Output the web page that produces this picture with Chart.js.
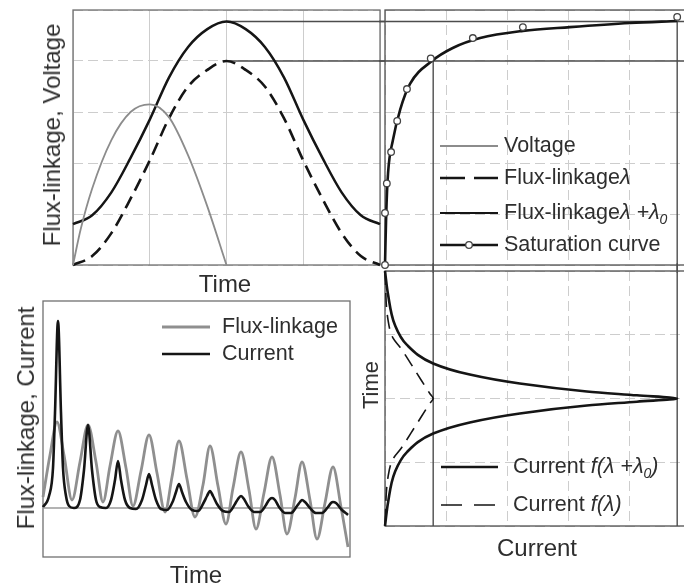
<!DOCTYPE html>
<html>
<head>
<meta charset="utf-8">
<script src="https://cdn.jsdelivr.net/npm/chart.js@4.4.1/dist/chart.umd.min.js"></script>
<style>
  html, body { margin:0; padding:0; background:#fff; width:684px; height:586px; overflow:hidden; position:relative; }
  canvas { position:absolute; }
  .lbl { position:absolute; font-family:"Liberation Sans", Arial, sans-serif; color:#2e2e2e; white-space:nowrap; line-height:1; transform:translate(-50%,-50%); }
  .rot { transform:translate(-50%,-50%) rotate(-90deg); }
</style>
</head>
<body>
<canvas id="tl"></canvas>
<canvas id="tr"></canvas>
<canvas id="lr"></canvas>
<canvas id="ll"></canvas>
<div class="lbl rot" style="left:52px;top:135px;font-size:24px">Flux-linkage, Voltage</div>
<div class="lbl" style="left:225px;top:284px;font-size:24px">Time</div>
<div class="lbl rot" style="left:26px;top:418px;font-size:24px">Flux-linkage, Current</div>
<div class="lbl" style="left:196px;top:575px;font-size:24px">Time</div>
<div class="lbl rot" style="left:371px;top:385px;font-size:22px">Time</div>
<div class="lbl" style="left:537px;top:548px;font-size:24px">Current</div>
<script>
// top left: one period, time in quarter periods, flux / voltage normalised
const voltageTime = [0, 0.1, 0.25, 0.5, 0.75, 1, 1.25, 1.5, 1.75, 2];
const voltage     = [0, 0.14, 0.30, 0.49, 0.60, 0.63, 0.58, 0.43, 0.23, 0];
const fluxTime    = [0, 0.25, 0.5, 0.75, 1, 1.25, 1.5, 1.75, 2, 2.25, 2.5, 2.75, 3, 3.25, 3.5, 3.75, 4];
const flux        = [0, 0.035, 0.125, 0.26, 0.41, 0.575, 0.70, 0.765, 0.80, 0.765, 0.70, 0.575, 0.41, 0.26, 0.125, 0.035, 0];
const fluxOffset  = [0.16, 0.195, 0.285, 0.42, 0.57, 0.735, 0.855, 0.925, 0.955, 0.925, 0.855, 0.735, 0.57, 0.42, 0.285, 0.195, 0.16];

// top right: saturation curve (line + measured points)
const satCurrent     = [0, 0.02, 0.05, 0.13, 0.25, 0.41, 0.77, 1.11, 1.56, 2.26, 3.03, 4.02, 4.79];
const satFlux        = [0, 0.2, 0.36, 0.49, 0.61, 0.71, 0.8, 0.851, 0.89, 0.918, 0.933, 0.949, 0.957];
const satMarkCurrent = [0, 0, 0.03, 0.1, 0.2, 0.36, 0.75, 1.44, 2.26, 4.79];
const satMarkFlux    = [0, 0.204, 0.32, 0.443, 0.565, 0.69, 0.81, 0.89, 0.933, 0.973];

// projection of the two flux peaks through the saturation curve
const projFlux    = [0.8, 0.955];
const projCurrent = [0.79, 4.79];

// lower right: current vs time (time runs downwards)
const timeSolid    = [0, 0.37, 0.84, 1.16, 1.45, 1.625, 1.766, 1.89, 1.95, 2.0, 2.05, 2.11, 2.234, 2.375, 2.55, 2.84, 3.16, 3.63, 4];
const currentSolid = [0, 0.05, 0.16, 0.36, 0.79, 1.39, 2.21, 3.31, 4.13, 4.79, 4.13, 3.31, 2.21, 1.39, 0.79, 0.36, 0.16, 0.05, 0];
const timeDash     = [0, 0.77, 1.05, 1.2, 1.57, 1.93, 2.0, 2.07, 2.43, 2.8, 2.95, 3.23, 4];
const currentDash  = [0, 0.05, 0.13, 0.25, 0.5, 0.74, 0.79, 0.74, 0.5, 0.25, 0.13, 0.05, 0];

// lower left: transient (arbitrary units)
const flTime  = [0, 7, 14, 21, 29, 37, 45, 53, 60, 67, 75, 83, 90, 98, 106, 114, 122, 129, 136, 144, 152, 160, 167, 175, 183, 190, 198, 206, 213, 221, 229, 237, 244, 252, 259, 267, 274, 282, 290, 298, 305];
const flValue = [11, 53, 86, 53, 8, 46, 83, 46, 6, 42, 77, 40, 2, 37, 73, 35, -4, 31, 67, 29, -9, 23, 62, 22, -16, 20, 56, 18, -21, 15, 51, 13, -26, 10, 46, 8, -31, 5, 41, 1, -39];
const curTime  = [0, 6, 10, 12, 15, 18, 20, 23, 26, 31, 37, 41, 45, 49, 53, 57, 63, 68, 72, 75, 78, 82, 87, 93, 99, 103, 106, 109, 113, 118, 124, 130, 133, 136, 139, 143, 149, 155, 161, 164, 167, 170, 174, 180, 186, 192, 195, 198, 201, 205, 211, 217, 223, 226, 229, 232, 236, 242, 248, 254, 257, 259, 262, 267, 273, 279, 285, 288, 290, 293, 298, 305];
const curValue = [1, 12, 40, 95, 187, 95, 40, 12, 2, 0, 8, 38, 83, 38, 8, 1, 0, 8, 28, 47, 28, 8, 0, -1, 8, 23, 34, 23, 8, -1, -2, 7, 16, 24, 16, 6, -2, -3, 6, 12, 17, 12, 4, -3, -4, 4, 9, 12, 9, 2, -4, -4, 3, 8, 10, 8, 1, -5, -5, 2, 6, 8, 6, 0, -5, -5, 1, 5, 6, 5, -1, -7];

const PAD = 10;
const FONT = '"Liberation Sans", Arial, sans-serif';
const BLACK = '#151515', GRAY = '#8c8c8c', GRID = '#cdcdcd', PROJ = '#4d4d4d';

const pts = (xs, ys) => xs.map((x, i) => ({x, y: ys[i]}));

const framePlugin = {
  id: 'frame',
  beforeDatasetsDraw(chart, args, opts) {
    const {ctx, chartArea: a} = chart;
    ctx.save();
    ctx.strokeStyle = opts.color; ctx.lineWidth = opts.width;
    ctx.strokeRect(a.left, a.top, a.right - a.left, a.bottom - a.top);
    ctx.restore();
  }
};

const legendPlugin = {
  id: 'inlineLegend',
  afterDatasetsDraw(chart, args, opts) {
    const ctx = chart.ctx;
    (opts.items || []).forEach(it => {
      const ds = it.src;
      const x = it.x - opts.ox, y = it.y - opts.oy;
      ctx.save();
      ctx.strokeStyle = ds.borderColor;
      ctx.lineWidth = it.width || ds.borderWidth;
      ctx.setLineDash(it.dash || []);
      ctx.beginPath(); ctx.moveTo(x, y); ctx.lineTo(x + it.len, y); ctx.stroke();
      if (it.marker) {
        const m = it.marker;
        ctx.setLineDash([]);
        ctx.beginPath(); ctx.arc(x + it.len / 2, y, m.pointRadius, 0, Math.PI * 2);
        ctx.fillStyle = m.pointBackgroundColor; ctx.fill();
        ctx.lineWidth = m.pointBorderWidth; ctx.strokeStyle = m.pointBorderColor; ctx.stroke();
      }
      let tx = x + it.len + it.gap;
      ctx.fillStyle = '#2e2e2e'; ctx.textBaseline = 'middle';
      it.parts.forEach(p => {
        ctx.font = (p.i ? 'italic ' : '') + (p.sub ? 14 : opts.size) + 'px ' + FONT;
        ctx.fillText(p.t, tx, y + (p.sub ? 7 : 0));
        tx += ctx.measureText(p.t).width;
      });
      ctx.restore();
    });
  }
};

function axis(min, max, step, gridColor, dash, extra) {
  return Object.assign({
    type: 'linear', min, max,
    ticks: {display: false, stepSize: step},
    grid: {display: !!gridColor, color: gridColor || GRID, lineWidth: 1, drawTicks: false},
    border: {display: false, dash: dash || []}
  }, extra || {});
}

function makeChart(id, rect, cfg) {
  const cv = document.getElementById(id);
  cv.width = rect.w + 2 * PAD; cv.height = rect.h + 2 * PAD;
  cv.style.left = (rect.l - PAD) + 'px'; cv.style.top = (rect.t - PAD) + 'px';
  return new Chart(cv, {
    type: 'line',
    data: {datasets: cfg.datasets},
    options: {
      responsive: false, animation: false, events: [],
      indexAxis: cfg.indexAxis || 'x',
      layout: {padding: PAD},
      elements: {point: {radius: 0}, line: {fill: false}},
      scales: {x: cfg.x, y: cfg.y},
      plugins: {
        legend: {display: false}, tooltip: {enabled: false},
        frame: cfg.frame,
        inlineLegend: {items: cfg.legend || [], ox: rect.l - PAD, oy: rect.t - PAD, size: cfg.legendSize || 21.5}
      }
    },
    plugins: [framePlugin, legendPlugin]
  });
}

const line = (data, color, width, extra) => Object.assign({
  data, borderColor: color, borderWidth: width, pointRadius: 0,
  cubicInterpolationMode: 'monotone', clip: 4
}, extra || {});

// datasets
const dsVoltage = line(pts(voltageTime, voltage), GRAY, 1.8, {label: 'Voltage'});
const dsFlux    = line(pts(fluxTime, flux), BLACK, 2.6, {label: 'Flux-linkage λ', borderDash: [13, 7]});
const dsFluxOff = line(pts(fluxTime, fluxOffset), BLACK, 2.5, {label: 'Flux-linkage λ + λ0'});
const dsSat     = line(pts(satCurrent, satFlux), BLACK, 2.6, {label: 'Saturation curve'});
const dsSatPts  = {label: 'Saturation curve points', data: pts(satMarkCurrent, satMarkFlux), showLine: false,
  pointRadius: 3.3, pointBackgroundColor: '#fff', pointBorderColor: '#444', pointBorderWidth: 1.3, clip: 8};
const proj = (data) => ({data, borderColor: PROJ, borderWidth: 1.4, pointRadius: 0, clip: 10, tension: 0});

const dsCurSolid = line(pts(currentSolid, timeSolid), BLACK, 2.6, {label: 'Current f(λ + λ0)'});
const dsCurDash  = line(pts(currentDash, timeDash), BLACK, 1.6, {label: 'Current f(λ)', borderDash: [14, 8]});

const dsFl  = line(pts(flTime, flValue), '#8f8f8f', 2.8, {label: 'Flux-linkage'});
const dsCur = line(pts(curTime, curValue), BLACK, 2.6, {label: 'Current'});

// top left
makeChart('tl', {l: 73, t: 10, w: 307, h: 255}, {
  x: axis(0, 4, 1, GRID),
  y: axis(0, 1, 0.2, GRID, [10, 5]),
  frame: {color: '#707070', width: 1.3},
  datasets: [dsVoltage, dsFlux, dsFluxOff,
    proj([{x: fluxTime[8], y: projFlux[0]}, {x: 4.07, y: projFlux[0]}]),
    proj([{x: fluxTime[8], y: projFlux[1]}, {x: 4.07, y: projFlux[1]}])]
});

// top right
makeChart('tr', {l: 385, t: 10, w: 305, h: 255}, {
  x: axis(0, 5, 1, GRID, [10, 5]),
  y: axis(0, 1, 0.2, GRID, [10, 5]),
  frame: {color: '#505050', width: 1.3},
  legendSize: 21.5,
  datasets: [dsSatPts, dsSat,
    proj([{x: -0.1, y: projFlux[0]}, {x: 5, y: projFlux[0]}]),
    proj([{x: -0.1, y: projFlux[1]}, {x: 5, y: projFlux[1]}]),
    proj([{x: projCurrent[0], y: -0.03}, {x: projCurrent[0], y: projFlux[0]}]),
    proj([{x: projCurrent[1], y: -0.03}, {x: projCurrent[1], y: projFlux[1]}])],
  legend: [
    {src: dsVoltage, x: 440, y: 146, len: 58, gap: 6, width: 2, parts: [{t: 'Voltage'}]},
    {src: dsFlux, x: 440, y: 178, len: 58, gap: 6, dash: [25, 9], parts: [{t: 'Flux-linkage'}, {t: 'λ', i: true}]},
    {src: dsFluxOff, x: 440, y: 213, len: 58, gap: 6, width: 2.2, parts: [{t: 'Flux-linkage'}, {t: 'λ +λ', i: true}, {t: '0', i: true, sub: true}]},
    {src: dsSat, x: 440, y: 245, len: 58, gap: 6, marker: dsSatPts, parts: [{t: 'Saturation curve'}]}
  ]
});

// lower right
makeChart('lr', {l: 385, t: 271, w: 305, h: 255}, {
  indexAxis: 'y',
  x: axis(0, 5, 1, GRID, [10, 5]),
  y: axis(0, 4, 1, GRID, [10, 5], {reverse: true}),
  frame: {color: '#505050', width: 1.3},
  datasets: [dsCurSolid, dsCurDash,
    proj([{x: projCurrent[0], y: -0.12}, {x: projCurrent[0], y: 4}]),
    proj([{x: projCurrent[1], y: -0.12}, {x: projCurrent[1], y: 4}])],
  legend: [
    {src: dsCurSolid, x: 441, y: 467, len: 57, gap: 15, parts: [{t: 'Current '}, {t: 'f(λ +λ', i: true}, {t: '0', i: true, sub: true}, {t: ')', i: true}]},
    {src: dsCurDash, x: 441, y: 505, len: 57, gap: 15, dash: [21, 12], parts: [{t: 'Current '}, {t: 'f(λ)', i: true}]}
  ]
});

// lower left
makeChart('ll', {l: 43, t: 301, w: 307, h: 256}, {
  x: axis(0, 307, 50, null),
  y: axis(-49, 207, 50, null),
  frame: {color: '#707070', width: 1.3},
  datasets: [dsCur, dsFl,
    {data: [{x: 0, y: 0}, {x: 307, y: 0}], borderColor: '#9a9a9a', borderWidth: 1.4, pointRadius: 0}],
  legend: [
    {src: dsFl, x: 162, y: 327, len: 48, gap: 12, parts: [{t: 'Flux-linkage'}]},
    {src: dsCur, x: 162, y: 354, len: 48, gap: 12, parts: [{t: 'Current'}]}
  ]
});
</script>
</body>
</html>
